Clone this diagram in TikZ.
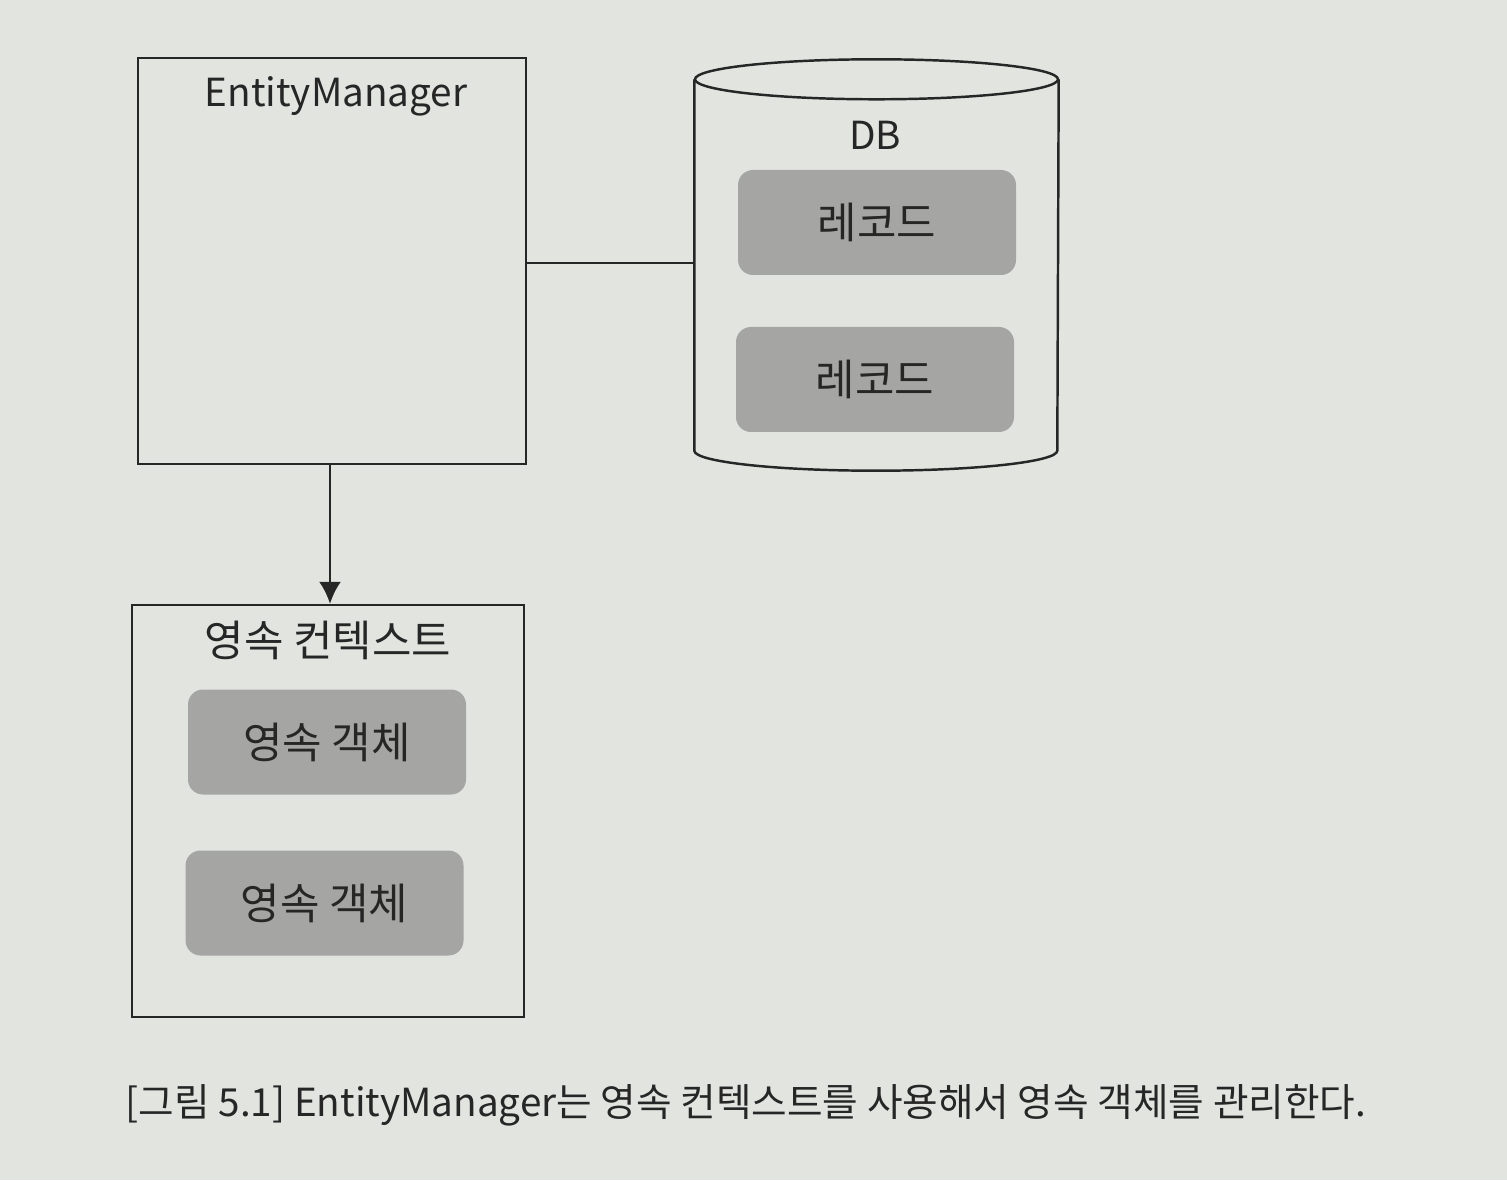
\documentclass[tikz,border=0pt]{standalone}
\usepackage{fontspec}
\setmainfont{Noto Sans CJK KR}
\usetikzlibrary{arrows.meta}
\definecolor{paper}{RGB}{226,228,224}
\definecolor{ink}{RGB}{38,38,38}
\definecolor{recgray}{RGB}{165,166,163}

\begin{document}
\begin{tikzpicture}[
    frame/.style={draw=ink, line width=0.7pt},
    item/.style={fill=recgray, rounded corners=0.15cm, minimum width=2.78cm, minimum height=1.05cm, text=ink, font=\fontsize{12.2}{14}\selectfont},
    lbl/.style={text=ink, inner sep=0pt}
  ]
            \fill[paper] (0,0) rectangle (15.07,11.8);
            \useasboundingbox (0,0) rectangle (15.07,11.8);
            \fontsize{11}{13}\selectfont

            \node[frame, minimum width=3.88cm, minimum height=4.06cm] (em) at (3.32,9.19) {};
            \node[lbl] (emlabel) at (3.36,10.84) {EntityManager};

            \node[minimum width=3.63cm, minimum height=3.70cm, inner sep=0pt] (db) at (8.765,9.15) {};
            \draw[frame] (db.north west) -- (db.south west)
              arc[start angle=180, end angle=360, x radius=1.815cm, y radius=0.2cm] -- (db.north east);
            \draw[frame] (db.north) ellipse [x radius=1.815cm, y radius=0.2cm];
            \node[lbl] (dblabel) at (8.75,10.45) {DB};

            \node[item] (rec1) at (8.77,9.575) {레코드};
            \node[item] (rec2) at (8.75,8.005) {레코드};

            \draw[frame] (em.east |- 0,9.17) -- (db.west |- 0,9.17);

            \node[frame, minimum width=3.92cm, minimum height=4.12cm] (pc) at (3.28,3.69) {};
            \node[lbl, font=\fontsize{12.2}{14}\selectfont] (pclabel) at (3.28,5.40) {영속 컨텍스트};

            \node[item] (obj1) at (3.27,4.38) {영속 객체};
            \node[item] (obj2) at (3.245,2.77) {영속 객체};

            \draw[frame, -{Latex[length=2.2mm, width=2.2mm]}] (em.south -| 3.30,0) -- (pc.north -| 3.30,0);

          \node[lbl] (caption) at (7.46,0.75) {[그림 5.1] EntityManager는 영속 컨텍스트를 사용해서 영속 객체를 관리한다.};
        \end{tikzpicture}
\end{document}
